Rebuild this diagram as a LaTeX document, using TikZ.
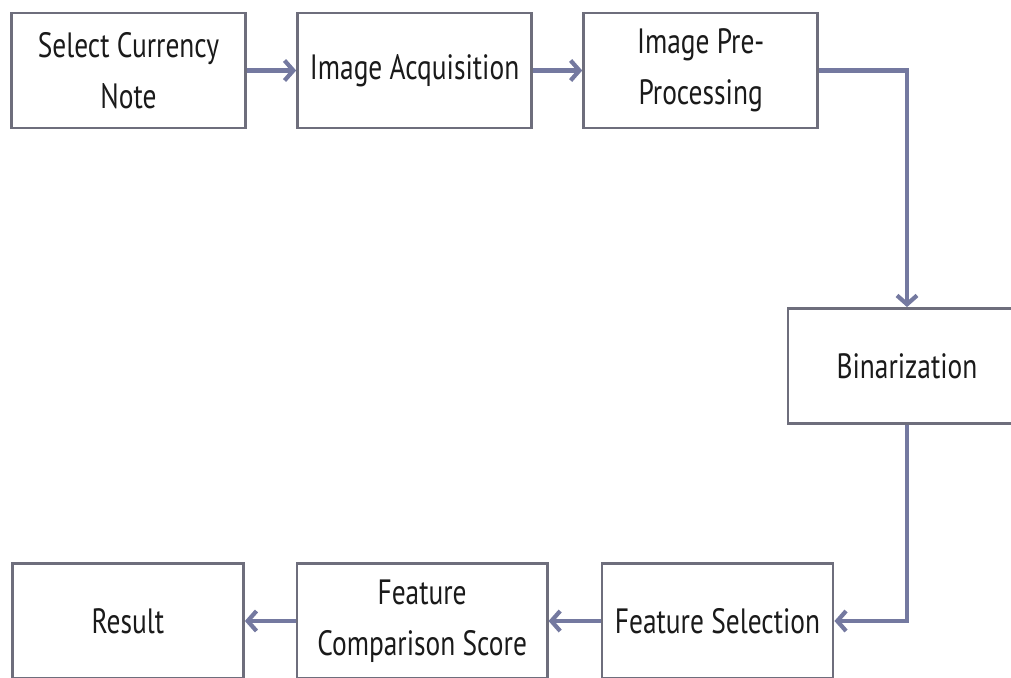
\documentclass[tikz,border=0pt]{standalone}
\usepackage{fontspec}
\setmainfont[FakeStretch=0.78]{PT Sans}
\usetikzlibrary{arrows.meta, positioning}
\definecolor{boxline}{HTML}{6E6E7C}
\definecolor{flow}{HTML}{7479A0}
\definecolor{ink}{HTML}{1A1A1A}

\begin{document}
\begin{tikzpicture}[
  x=0.025cm, y=-0.025cm,
  node distance=1.23cm,
  stage/.style={draw=boxline, line width=2pt, fill=white, minimum width=5.85cm, minimum height=2.875cm, align=center, text=ink, font=\fontsize{25}{36}\selectfont},
  arrow/.style={-{Straight Barb[length=2.2mm, width=5mm]}, line width=3pt, color=flow}
]
  \useasboundingbox (0,0) rectangle (1011,677);

  \node[stage] (sel) at (128.5,70.5) {Select Currency\\Note};
  \node[stage, right=of sel] (acq) {Image Acquisition};
  \node[stage, right=of acq] (pre) {Image Pre-\\Processing};

  \node[stage, minimum width=5.95cm] (bin) at (907,366) {Binarization};

  \node[stage, minimum width=5.775cm] (fsel) at (717.5,621) {Feature Selection};
  \node[stage, minimum width=6.25cm, left=1.3cm of fsel] (fcmp) {Feature\\Comparison Score};
  \node[stage, minimum width=5.775cm, left=1.27cm of fcmp] (res) {Result};

  \draw[arrow] (sel) -- (acq);
  \draw[arrow] (acq) -- (pre);
  \draw[arrow] (pre.east) -| (bin.north);
  \draw[arrow] (bin.south) |- (fsel.east);
  \draw[arrow] (fsel) -- (fcmp);
  \draw[arrow] (fcmp) -- (res);
\end{tikzpicture}
\end{document}
